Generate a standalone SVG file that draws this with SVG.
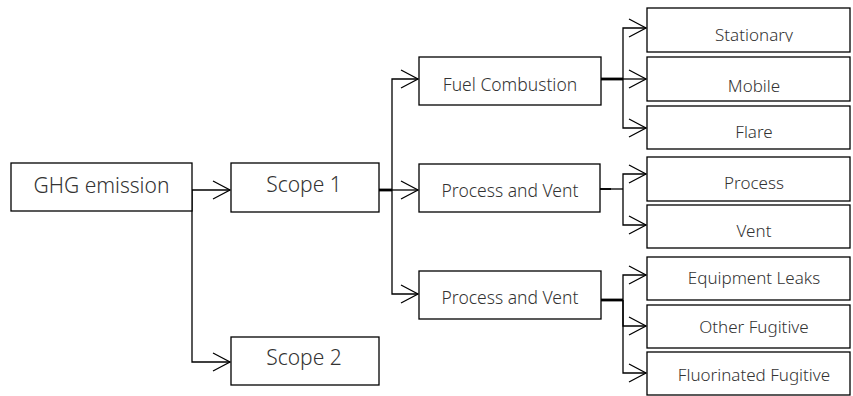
<svg xmlns="http://www.w3.org/2000/svg" width="853" height="396" viewBox="0 0 853 396">
  <style>
    .box { fill: #ffffff; stroke: #000000; stroke-width: 1.3; }
    .lbl { font-family: "Noto Sans", "Open Sans", sans-serif; font-weight: 300; fill: #333333; text-anchor: middle; }
    .big { font-size: 21px; }
    .mid { font-size: 17.5px; }
    .sm { font-size: 17px; }
    .wire { fill: none; stroke: #000000; stroke-width: 1.3; }
    .trunk { fill: none; stroke: #000000; stroke-width: 2.8; }
    .arr { marker-end: url(#head); }
  </style>
  <defs>
    <marker id="head" markerUnits="userSpaceOnUse" markerWidth="24" markerHeight="24" viewBox="-20 -12 24 24" refX="0" refY="0" orient="auto">
      <path d="M-17,-9 L0,0 L-17,9" fill="none" stroke="#000000" stroke-width="1.3"/>
    </marker>
    <clipPath id="clipTop">
      <rect x="647" y="8" width="203" height="34"/>
    </clipPath>
  </defs>

  <!-- connectors -->
  <g id="connectors">
    <!-- root to scopes -->
    <path class="wire arr" d="M192,190 H230"/>
    <path class="wire arr" d="M192,190 V362 H230"/>
    <!-- scope 1 to categories -->
    <path class="trunk" d="M379,190 H392"/>
    <path class="wire arr" d="M392,190 H418"/>
    <path class="wire arr" d="M392,190 V79 H418"/>
    <path class="wire arr" d="M392,190 V294 H418"/>
    <!-- fuel combustion sources -->
    <path class="trunk" d="M601,79 H623"/>
    <path class="wire arr" d="M623,79 H646"/>
    <path class="wire arr" d="M623,79 V28 H646"/>
    <path class="wire arr" d="M623,79 V128 H646"/>
    <!-- process and vent sources -->
    <path class="trunk" d="M600,189 H611" style="stroke-width:1.8"/>
    <path class="wire" d="M600,189 H623"/>
    <path class="wire arr" d="M623,189 V174 H646"/>
    <path class="wire arr" d="M623,189 V225 H646"/>
    <!-- fugitive sources -->
    <path class="trunk" d="M601,300 H623"/>
    <path class="wire arr" d="M623,300 V275 H646"/>
    <path class="wire arr" d="M623,300 V326 H646"/>
    <path class="wire arr" d="M623,300 V373 H646"/>
  </g>

  <g id="ghg">
    <rect class="box" x="11" y="163" width="181" height="48"/>
    <text class="lbl big" x="101.5" y="193">GHG emission</text>
  </g>
  <g id="scope1">
    <rect class="box" x="231" y="163" width="148" height="49"/>
    <text class="lbl big" x="304" y="192">Scope 1</text>
  </g>
  <g id="scope2">
    <rect class="box" x="231" y="337" width="148" height="48"/>
    <text class="lbl big" x="304" y="365">Scope 2</text>
  </g>

  <g id="fuel">
    <rect class="box" x="419" y="57" width="182" height="48"/>
    <text class="lbl mid" x="510" y="90.5">Fuel Combustion</text>
  </g>
  <g id="process-vent-a">
    <rect class="box" x="419" y="164" width="181" height="48"/>
    <text class="lbl mid" x="510" y="196.5">Process and Vent</text>
  </g>
  <g id="process-vent-b">
    <rect class="box" x="419" y="271" width="182" height="48"/>
    <text class="lbl mid" x="510" y="304">Process and Vent</text>
  </g>

  <g id="stationary">
    <rect class="box" x="647" y="8" width="203" height="44"/>
    <text class="lbl sm" x="754" y="40.5" clip-path="url(#clipTop)">Stationary</text>
  </g>
  <g id="mobile">
    <rect class="box" x="647" y="57" width="203" height="44"/>
    <text class="lbl sm" x="754" y="91.5">Mobile</text>
  </g>
  <g id="flare">
    <rect class="box" x="647" y="106" width="203" height="43"/>
    <text class="lbl sm" x="754" y="137.5">Flare</text>
  </g>
  <g id="process">
    <rect class="box" x="647" y="157" width="203" height="44"/>
    <text class="lbl sm" x="754" y="188.5">Process</text>
  </g>
  <g id="vent">
    <rect class="box" x="647" y="205" width="203" height="43"/>
    <text class="lbl sm" x="754" y="237">Vent</text>
  </g>
  <g id="equipment-leaks">
    <rect class="box" x="647" y="257" width="203" height="43"/>
    <text class="lbl sm" x="754" y="283.5">Equipment Leaks</text>
  </g>
  <g id="other-fugitive">
    <rect class="box" x="647" y="305" width="203" height="43"/>
    <text class="lbl sm" x="754" y="333">Other Fugitive</text>
  </g>
  <g id="fluorinated-fugitive">
    <rect class="box" x="647" y="352" width="203" height="43"/>
    <text class="lbl sm" x="754" y="380.5">Fluorinated Fugitive</text>
  </g>
</svg>
